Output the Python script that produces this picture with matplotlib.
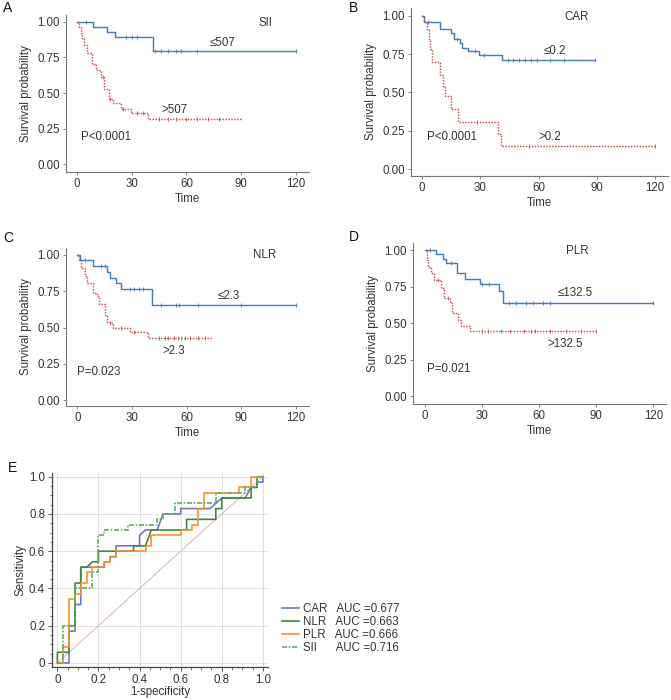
import numpy as np
import matplotlib
matplotlib.use('Agg')
import matplotlib.pyplot as plt

plt.rcParams['font.family'] = ['Liberation Sans', 'DejaVu Sans']
plt.rcParams['font.size'] = 8.3

# Kaplan-Meier curves: event times, survival after each step, censor times
sii_low_t = [0, 9, 16.5, 21, 41.5, 120]
sii_low_s = [1.0, 0.965, 0.93, 0.89, 0.794, 0.794]
sii_low_c = [5, 27, 30, 33, 43, 46, 50, 54, 57, 66, 120]
sii_high_t = [0, 1, 2, 3, 4, 5.5, 8.5, 10.5, 13, 15, 17.5, 20, 24, 29.5, 39, 90]
sii_high_s = [1.0, 0.96, 0.92, 0.88, 0.84, 0.78, 0.70, 0.66, 0.615, 0.53, 0.46, 0.43, 0.39, 0.36, 0.318, 0.318]
sii_high_c = [14, 18, 25, 33, 36, 45, 50, 54, 60, 66, 72, 78]

car_low_t = [0, 1, 9.1, 14.8, 16.5, 19.4, 20.6, 23.7, 29.2, 40.9, 89]
car_low_s = [1.0, 0.957, 0.913, 0.89, 0.85, 0.82, 0.79, 0.77, 0.744, 0.71, 0.71]
car_low_c = [3, 18, 27, 32, 44, 47, 50, 53, 56, 59, 66, 73, 89]
car_high_t = [0, 1, 2.2, 3.4, 4, 5.2, 9.1, 10.8, 11.7, 14.8, 18.2, 39.2, 40.6, 120]
car_high_s = [1.0, 0.96, 0.907, 0.84, 0.78, 0.70, 0.614, 0.534, 0.48, 0.39, 0.306, 0.23, 0.154, 0.154]
car_high_c = [28, 55, 120]

nlr_low_t = [0, 1.5, 8.8, 16.5, 18, 21, 23.8, 41.1, 120]
nlr_low_s = [1.0, 0.963, 0.925, 0.885, 0.844, 0.805, 0.766, 0.657, 0.657]
nlr_low_c = [4, 13, 15, 29, 31, 34, 36, 46, 54, 56, 66, 90, 120]
nlr_high_t = [0, 1, 2, 4.2, 5.5, 8.8, 10.6, 12.1, 15.2, 16.5, 17.9, 19.7, 29, 39, 74]
nlr_high_s = [1.0, 0.965, 0.91, 0.855, 0.81, 0.74, 0.72, 0.66, 0.586, 0.54, 0.53, 0.50, 0.47, 0.43, 0.43]
nlr_high_c = [18, 24, 31, 45, 48, 50, 53, 55, 57, 59, 62, 66, 70]

plr_low_t = [0, 6.1, 9.6, 11.4, 17.2, 21, 29.2, 39, 41, 120]
plr_low_s = [1.0, 0.97, 0.94, 0.91, 0.84, 0.80, 0.77, 0.72, 0.64, 0.64]
plr_low_c = [3, 14, 30, 34, 44, 48, 53, 57, 62, 66, 120]
plr_high_t = [0, 1, 1.75, 3.5, 5, 8.8, 10.2, 13.1, 14.4, 17.5, 19.3, 24, 90]
plr_high_s = [1.0, 0.93, 0.886, 0.84, 0.795, 0.74, 0.67, 0.636, 0.57, 0.52, 0.48, 0.45, 0.45]
plr_high_c = [7, 12, 30, 33, 40, 45, 52, 56, 58, 66, 74, 82, 90]

# ROC curves
car_fpr = [0, 0.057, 0.057, 0.086, 0.086, 0.114, 0.114, 0.229, 0.229, 0.257, 0.257, 0.286, 0.286, 0.4, 0.4,
           0.429, 0.486, 0.514, 0.6, 0.6, 0.743, 0.771, 0.8, 0.914, 0.943, 0.971, 0.971, 1.0, 1.0]
car_tpr = [0, 0, 0.171, 0.171, 0.314, 0.314, 0.514, 0.514, 0.543, 0.543, 0.571, 0.571, 0.629, 0.629, 0.686,
           0.714, 0.714, 0.8, 0.8, 0.829, 0.829, 0.857, 0.886, 0.886, 0.943, 0.943, 0.971, 0.971, 1.0]
nlr_fpr = [0, 0, 0.057, 0.057, 0.086, 0.086, 0.114, 0.114, 0.143, 0.171, 0.2, 0.2, 0.371, 0.371, 0.429, 0.457,
           0.629, 0.629, 0.771, 0.771, 0.8, 0.8, 0.943, 0.943, 0.971, 0.971, 1.0]
nlr_tpr = [0, 0.057, 0.057, 0.2, 0.2, 0.429, 0.429, 0.514, 0.514, 0.543, 0.543, 0.6, 0.6, 0.629, 0.629, 0.714,
           0.714, 0.771, 0.771, 0.829, 0.829, 0.886, 0.886, 0.943, 0.943, 1.0, 1.0]
plr_fpr = [0, 0.029, 0.029, 0.057, 0.057, 0.086, 0.086, 0.114, 0.114, 0.143, 0.143, 0.171, 0.171, 0.229, 0.229,
           0.257, 0.257, 0.286, 0.286, 0.429, 0.429, 0.457, 0.457, 0.6, 0.6, 0.657, 0.657, 0.686, 0.686, 0.714,
           0.714, 0.886, 0.886, 0.943, 0.943, 1.0]
plr_tpr = [0, 0, 0.086, 0.086, 0.343, 0.343, 0.371, 0.371, 0.429, 0.429, 0.486, 0.486, 0.514, 0.514, 0.543,
           0.543, 0.571, 0.571, 0.6, 0.6, 0.629, 0.629, 0.686, 0.686, 0.714, 0.714, 0.743, 0.743, 0.829, 0.829,
           0.914, 0.914, 0.943, 0.943, 1.0, 1.0]
sii_fpr = [0, 0.029, 0.029, 0.086, 0.086, 0.171, 0.171, 0.2, 0.2, 0.229, 0.229, 0.343, 0.343, 0.486, 0.486,
           0.514, 0.514, 0.571, 0.571, 0.771, 0.771, 0.914, 0.914, 0.971, 0.971, 1.0]
sii_tpr = [0, 0, 0.2, 0.2, 0.4, 0.4, 0.486, 0.486, 0.686, 0.686, 0.714, 0.714, 0.743, 0.743, 0.771,
           0.771, 0.8, 0.8, 0.857, 0.857, 0.914, 0.914, 0.943, 0.943, 1.0, 1.0]

roc_names = ['CAR', 'NLR', 'PLR', 'SII']
roc_auc = ['0.677', '0.663', '0.666', '0.716']

BLUE = '#4a7fb6'
RED = '#c8504f'
SPINE = '#777777'
TXT = '#333333'
FS = 8.3

W, H = 671, 700
fig = plt.figure(figsize=(W / 100, H / 100), dpi=100)


def rect(l, t, r, b):
    return [l / W, 1 - b / H, (r - l) / W, (b - t) / H]


def km_panel(box, xlim, ylim, low, high):
    ax = fig.add_axes(box)
    for (t, s, c), col, ls in [(low, BLUE, '-'), (high, RED, (0, (1, 1)))]:
        ax.step(t, s, where='post', color=col, lw=1.05, ls=ls)
        idx = np.searchsorted(t, c, side='right') - 1
        ax.plot(c, np.asarray(s)[idx], ls='none', marker='|', ms=3, mew=0.6, color=col)
    ax.set_xlim(*xlim)
    ax.set_ylim(*ylim)
    ax.set_xticks([0, 30, 60, 90, 120])
    ax.set_yticks([0, 0.25, 0.5, 0.75, 1.0])
    ax.set_yticklabels(['0.00', '0.25', '0.50', '0.75', '1.00'])
    for sp in ['top', 'right']:
        ax.spines[sp].set_visible(False)
    for sp in ['left', 'bottom']:
        ax.spines[sp].set_color(SPINE)
        ax.spines[sp].set_linewidth(0.8)
    ax.tick_params(length=2.5, width=0.6, color=SPINE, labelcolor=TXT, labelsize=FS, pad=2)
    ax.set_xlabel('Time', color=TXT, fontsize=FS, labelpad=2)
    ax.set_ylabel('Survival probability', color=TXT, fontsize=FS, labelpad=4)
    return ax


# A - SII
ax = km_panel(rect(66, 15, 309, 172), (-6.0, 127.1), (-0.054, 1.047),
              (sii_low_t, sii_low_s, sii_low_c), (sii_high_t, sii_high_s, sii_high_c))
ax.text(103, 0.99, 'SII', ha='center', va='center', color=TXT)
ax.text(72.5, 0.85, '\u2264507', ha='left', va='center', color=TXT)
ax.text(46.5, 0.38, '>507', ha='left', va='center', color=TXT)
ax.text(2.2, 0.19, 'P<0.0001', ha='left', va='center', color=TXT)

# B - CAR
ax = km_panel(rect(411, 8, 668, 176), (-5.8, 126.7), (-0.044, 1.05),
              (car_low_t, car_low_s, car_low_c), (car_high_t, car_high_s, car_high_c))
ax.text(79.6, 0.99, 'CAR', ha='center', va='center', color=TXT)
ax.text(62.4, 0.77, '\u22640.2', ha='left', va='center', color=TXT)
ax.text(60, 0.21, '>0.2', ha='left', va='center', color=TXT)
ax.text(2.2, 0.21, 'P<0.0001', ha='left', va='center', color=TXT)

# C - NLR
ax = km_panel(rect(66, 248, 309, 406), (-6.2, 127.1), (-0.039, 1.048),
              (nlr_low_t, nlr_low_s, nlr_low_c), (nlr_high_t, nlr_high_s, nlr_high_c))
ax.text(102.6, 1.0, 'NLR', ha='center', va='center', color=TXT)
ax.text(76.8, 0.72, '\u22642.3', ha='left', va='center', color=TXT)
ax.text(46.6, 0.34, '>2.3', ha='left', va='center', color=TXT)
ax.text(-0.4, 0.195, 'P=0.023', ha='left', va='center', color=TXT)

# D - PLR
ax = km_panel(rect(413, 243, 666, 404), (-6.1, 126.6), (-0.052, 1.048),
              (plr_low_t, plr_low_s, plr_low_c), (plr_high_t, plr_high_s, plr_high_c))
ax.text(80.2, 0.995, 'PLR', ha='center', va='center', color=TXT)
ax.text(69.7, 0.705, '\u2264132.5', ha='left', va='center', color=TXT)
ax.text(64.5, 0.36, '>132.5', ha='left', va='center', color=TXT)
ax.text(1.2, 0.19, 'P=0.021', ha='left', va='center', color=TXT)

# E - ROC
ax = fig.add_axes(rect(52, 473, 268, 667))
ax.plot([0, 1], [0, 1], color='#dcb4ac', lw=0.7)
roc_colors = ['#7474c8', '#3b8a3b', '#f7922e', '#62ac62']
roc_styles = ['-', '-', '-', (0, (3, 1, 1, 1))]
roc_data = [(car_fpr, car_tpr), (nlr_fpr, nlr_tpr), (plr_fpr, plr_tpr), (sii_fpr, sii_tpr)]
handles = []
for (fx, fy), col, ls in zip(roc_data, roc_colors, roc_styles):
    h, = ax.plot(fx, fy, color=col, lw=1.2, ls=ls)
    handles.append(h)
ax.set_xlim(-0.026, 1.025)
ax.set_ylim(-0.022, 1.02)
ticks = [0, 0.2, 0.4, 0.6, 0.8, 1.0]
tick_labels = ['0', '0.2', '0.4', '0.6', '0.8', '1.0']
ax.set_xticks(ticks)
ax.set_xticklabels(tick_labels)
ax.set_yticks(ticks)
ax.set_yticklabels(tick_labels)
ax.set_xticks(np.arange(0, 1.001, 0.05), minor=True)
ax.set_yticks(np.arange(0, 1.001, 0.05), minor=True)
ax.grid(True, which='major', color='#dddddd', lw=0.6)
ax.set_axisbelow(True)
for sp in ['top', 'right']:
    ax.spines[sp].set_visible(False)
for sp in ['left', 'bottom']:
    ax.spines[sp].set_color('#444444')
    ax.spines[sp].set_linewidth(0.9)
ax.tick_params(which='major', length=3, width=0.6, color='#444444', labelcolor=TXT, labelsize=FS, pad=2)
ax.tick_params(which='minor', length=1.8, width=0.5, color='#444444')
ax.set_xlabel('1-specificity', color=TXT, fontsize=FS, labelpad=0)
ax.set_ylabel('Sensitivity', color=TXT, fontsize=FS, labelpad=2)

gaps = ['   ', '   ', '   ', '      ']
labels = [n + g + 'AUC =' + a for n, g, a in zip(roc_names, gaps, roc_auc)]
fig.legend(handles, labels, loc='upper left', bbox_to_anchor=(276 / W, 1 - 597 / H), frameon=False,
           fontsize=FS, handlelength=1.5, handletextpad=0.3, labelspacing=0.1, borderpad=0,
           labelcolor=TXT)

# panel letters
for letter, x, y in [('A', 3, 8), ('B', 349, 8), ('C', 3, 238), ('D', 349, 237), ('E', 8, 468)]:
    fig.text(x / W, 1 - y / H, letter, fontsize=10, ha='left', va='center', color='#111111')

fig.savefig('out.png', dpi=100)
